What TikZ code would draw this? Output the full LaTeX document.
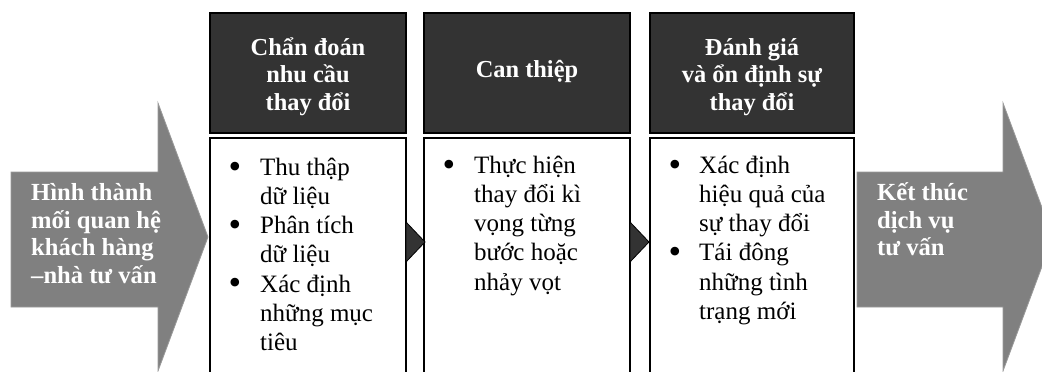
\documentclass[tikz,border=0pt]{standalone}
\usepackage{fontspec}
\setmainfont{Liberation Serif}
\definecolor{arrowgray}{HTML}{808080}
\definecolor{arrowedge}{HTML}{9A9A9A}
\definecolor{dark}{HTML}{333333}
\newcommand{\hstrut}{\rule{0pt}{24pt}}
\newcommand{\bstrut}{\rule{0pt}{25pt}}
\begin{document}
\begin{tikzpicture}[x=1pt,y=-1pt,
  arrowshape/.style={fill=arrowgray, draw=arrowedge, line width=0.8pt},
  header/.style={fill=dark, draw=black, line width=1.2pt},
  bodybox/.style={fill=white, draw=black, line width=1.2pt},
  tri/.style={fill=dark, draw=black, line width=0.8pt},
  htext/.style={text=white, font=\fontsize{24.4}{27.5}\selectfont\bfseries, align=center, inner sep=0pt, anchor=north},
  atext/.style={text=white, font=\fontsize{24.6}{27.8}\selectfont\bfseries, align=left, inner sep=0pt, anchor=north west},
  btext/.style={font=\fontsize{25}{29.2}\selectfont, align=left, inner sep=0pt, anchor=north west},
  bul/.style={font=\fontsize{36}{36}\selectfont, inner sep=0pt, anchor=base}]
\useasboundingbox (0,0) rectangle (1042,372);
\clip (0,0) rectangle (1042,372);
% side arrows
\draw[arrowshape] (11,172) -- (158,172) -- (158,103) -- (208,237) -- (158,371) -- (158,307) -- (11,307) -- cycle;
\draw[arrowshape] (857,172) -- (1003,172) -- (1003,103) -- (1053,237) -- (1003,371) -- (1003,307) -- (857,307) -- cycle;
\node[atext] (start) at (31,200-24) {\hstrut Hình thành\\mối quan hệ\\khách hàng\\–nhà tư vấn};
\node[atext] (finish) at (877,200-24) {\hstrut Kết thúc\\dịch vụ\\tư vấn};
% headers
\draw[header] (210,13) rectangle (406,133);
\draw[header] (424,13) rectangle (630,133);
\draw[header] (650,13) rectangle (854,133);
\node[htext] (h1) at (308,55-24) {\hstrut Chẩn đoán\\nhu cầu\\thay đổi};
\node[htext, anchor=base] (h2) at (527,77) {Can thiệp};
\node[htext] (h3) at (752,55-24) {\hstrut Đánh giá\\và ổn định sự\\thay đổi};
% body boxes
\draw[bodybox] (210,138) rectangle (406,390);
\draw[bodybox] (424,138) rectangle (630,390);
\draw[bodybox] (650,138) rectangle (854,390);
% connecting triangles
\draw[tri] (406,222) -- (425,242) -- (406,262) -- cycle;
\draw[tri] (630,222) -- (649,242) -- (630,262) -- cycle;
% body texts
\node[bul] (b11) at (235,178) {•};
\node[bul] (b12) at (235,178+2*29.2) {•};
\node[bul] (b13) at (235,178+4*29.2) {•};
\node[btext] (t1) at (260,175-25) {\bstrut Thu thập\\dữ liệu\\Phân tích\\dữ liệu\\Xác định\\những mục\\tiêu};
\node[bul] (b21) at (449,176) {•};
\node[btext] (t2) at (474,173-25) {\bstrut Thực hiện\\thay đổi kì\\vọng từng\\bước hoặc\\nhảy vọt};
\node[bul] (b31) at (675,176) {•};
\node[bul] (b32) at (675,176+3*29.2) {•};
\node[btext] (t3) at (699,173-25) {\bstrut Xác định\\hiệu quả của\\sự thay đổi\\Tái đông\\những tình\\trạng mới};
\end{tikzpicture}
\end{document}
